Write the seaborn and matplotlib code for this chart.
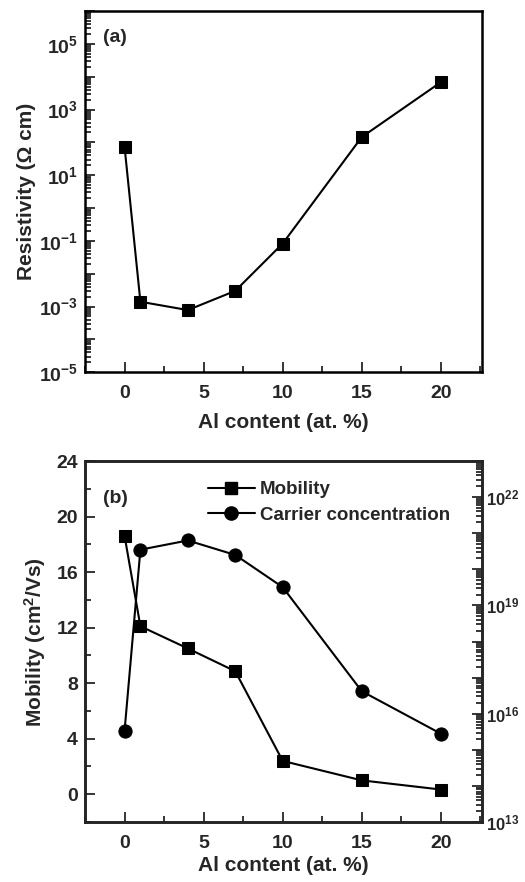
import numpy as np
import pandas as pd
import matplotlib
matplotlib.use("Agg")
import matplotlib.pyplot as plt
import matplotlib.ticker as mticker
from matplotlib.lines import Line2D
import seaborn as sns

# ---- data ----
al_content = [0, 1, 4, 7, 10, 15, 20]
resistivity = [72, 1.4e-3, 7.8e-4, 3.0e-3, 0.083, 145, 6800]
mobility = [18.6, 12.1, 10.5, 8.86, 2.4, 1.0, 0.34]
carrier_conc = [3.4e15, 3.5e20, 6.3e20, 2.5e20, 3.2e19, 4.2e16, 2.8e15]
xticks = [0, 5, 10, 15, 20]
mob_ticks = [0, 4, 8, 12, 16, 20, 24]

sns.set_style("ticks")
plt.rcParams["font.family"] = ["Liberation Sans", "DejaVu Sans"]
plt.rcParams["font.weight"] = "bold"
plt.rcParams["axes.labelweight"] = "bold"
plt.rcParams["mathtext.fontset"] = "custom"
plt.rcParams["mathtext.rm"] = "Liberation Sans:bold"
plt.rcParams["mathtext.it"] = "Liberation Sans:bold"
plt.rcParams["mathtext.bf"] = "Liberation Sans:bold"
plt.rcParams["mathtext.default"] = "rm"

df_a = pd.DataFrame({"x": al_content, "y": resistivity})
df_b = pd.DataFrame({"x": al_content, "mob": mobility, "n": carrier_conc})

fig = plt.figure(figsize=(5.25, 8.82), dpi=100)
ax1 = fig.add_axes([0.162, 0.578, 0.756, 0.4095])
ax2 = fig.add_axes([0.162, 0.068, 0.756, 0.4093])

FS = 14
LFS = 15
lw_axis = 1.8

def style_axis(ax):
    for s in ax.spines.values():
        s.set_linewidth(lw_axis)
        s.set_color("black")
    ax.tick_params(which="both", direction="in", width=1.3, labelsize=FS, pad=5,
                   top=False, right=False)
    ax.tick_params(which="major", length=7)
    ax.tick_params(which="minor", length=4)

# ---- panel (a) ----
sns.lineplot(data=df_a, x="x", y="y", ax=ax1, color="black", marker="s",
             markersize=9, markeredgecolor="black", linewidth=1.5)
ax1.set_yscale("log")
ax1.set_xlim(-2.5, 22.6)
ax1.set_ylim(1e-5, 1e6)
ax1.set_xticks(xticks)
ax1.xaxis.set_minor_locator(mticker.MultipleLocator(2.5))
ax1.yaxis.set_major_locator(mticker.LogLocator(base=10, subs=(1.0,), numticks=20))
ax1.yaxis.set_minor_locator(mticker.LogLocator(base=10, subs=np.arange(2, 10), numticks=50))
ax1.yaxis.set_minor_formatter(mticker.NullFormatter())

def fmt_a(v, pos):
    e = int(round(np.log10(v)))
    return r"$10^{%d}$" % e if e % 2 != 0 else ""
ax1.yaxis.set_major_formatter(mticker.FuncFormatter(fmt_a))
style_axis(ax1)
ax1.tick_params(axis="x", pad=9)
ax1.set_xlabel("Al content (at. %)", fontsize=LFS, labelpad=8)
ax1.set_ylabel("Resistivity (Ω cm)", fontsize=LFS, labelpad=2)
ax1.text(0.045, 0.915, "(a)", transform=ax1.transAxes, fontsize=FS, fontweight="bold")

# ---- panel (b) ----
sns.lineplot(data=df_b, x="x", y="mob", ax=ax2, color="black", marker="s",
             markersize=9, markeredgecolor="black", linewidth=1.5)
ax2.set_xlim(-2.5, 22.6)
ax2.set_ylim(-2, 24)
ax2.set_xticks(xticks)
ax2.set_yticks(mob_ticks)
ax2.xaxis.set_minor_locator(mticker.MultipleLocator(2.5))
ax2.yaxis.set_minor_locator(mticker.MultipleLocator(2))
style_axis(ax2)
ax2.tick_params(axis="x", pad=9)
ax2.set_xlabel("Al content (at. %)", fontsize=LFS, labelpad=3)
ax2.set_ylabel("Mobility (cm$^{2}$/Vs)", fontsize=LFS, labelpad=6)
ax2.text(0.045, 0.885, "(b)", transform=ax2.transAxes, fontsize=FS, fontweight="bold")

ax3 = ax2.twinx()
sns.lineplot(data=df_b, x="x", y="n", ax=ax3, color="black", marker="o",
             markersize=9.5, markeredgecolor="black", linewidth=1.5)
ax3.set_yscale("log")
ax3.set_ylim(1e13, 1e23)
ax3.yaxis.set_major_locator(mticker.LogLocator(base=10, subs=(1.0,), numticks=20))
ax3.yaxis.set_minor_locator(mticker.LogLocator(base=10, subs=np.arange(2, 10), numticks=50))
ax3.yaxis.set_minor_formatter(mticker.NullFormatter())

def fmt_b(v, pos):
    e = int(round(np.log10(v)))
    return r"$10^{%d}$" % e if (e - 13) % 3 == 0 else ""
ax3.yaxis.set_major_formatter(mticker.FuncFormatter(fmt_b))
ax3.set_ylabel("")
for s in ax3.spines.values():
    s.set_linewidth(lw_axis)
ax3.tick_params(which="both", direction="in", width=1.3, labelsize=12, pad=3,
                left=False, right=True)
ax3.tick_params(which="major", length=7)
ax3.tick_params(which="minor", length=4)

handles = [
    Line2D([], [], color="black", marker="s", markersize=9, linewidth=1.5),
    Line2D([], [], color="black", marker="o", markersize=9.5, linewidth=1.5),
]
ax2.legend(handles, ["Mobility", "Carrier concentration"], loc="upper left",
           bbox_to_anchor=(0.29, 0.965), frameon=False, fontsize=13.5,
           handlelength=2.5, handletextpad=0.3, labelspacing=0.45, borderaxespad=0)

fig.savefig("out.png", dpi=100)
